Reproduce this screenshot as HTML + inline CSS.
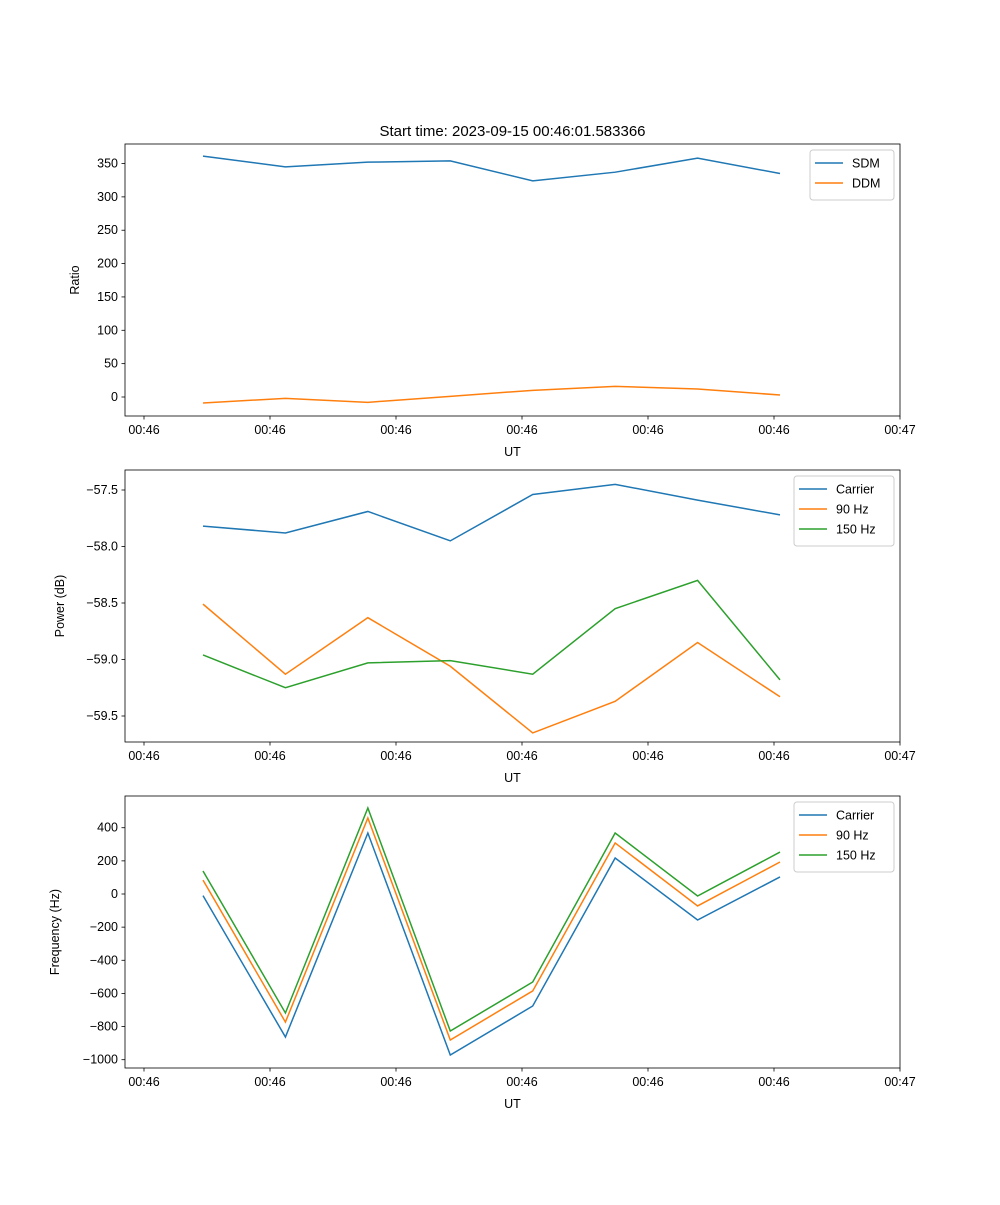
<!DOCTYPE html>
<html><head><meta charset="utf-8"><style>body{margin:0;background:#fff}svg{font-family:"Liberation Sans","DejaVu Sans",sans-serif}</style></head>
<body>
<svg id="chart" width="1000" height="1200" xmlns="http://www.w3.org/2000/svg"></svg>
<script>
const xIndex=[0,1,2,3,4,5,6,7];
const xTickLabels=["00:46","00:46","00:46","00:46","00:46","00:46","00:47"];
const sdm=[361,345,352,354,324,337,358,335];
const ddm=[-9,-2,-8,1,10,16,12,3];
const pCarrier=[-57.82,-57.88,-57.69,-57.95,-57.54,-57.45,-57.59,-57.72];
const p90=[-58.51,-59.13,-58.63,-59.06,-59.65,-59.37,-58.85,-59.33];
const p150=[-58.96,-59.25,-59.03,-59.01,-59.13,-58.55,-58.30,-59.18];
const fCarrier=[-10,-863,368,-972,-676,217,-157,103];
const f90=[84,-773,459,-881,-585,308,-72,193];
const f150=[139,-718,519,-827,-531,368,-12,253];
const ticks1=[0,50,100,150,200,250,300,350];
const ticks2=[-59.5,-59.0,-58.5,-58.0,-57.5];
const ticks3=[-1000,-800,-600,-400,-200,0,200,400];

const svg=document.getElementById('chart');
const NS="http://www.w3.org/2000/svg";
function el(t,a,p){const e=document.createElementNS(NS,t);for(const k in a)e.setAttribute(k,a[k]);(p||svg).appendChild(e);return e;}
function txt(s,a,p){const e=el('text',a,p);e.textContent=s;return e;}
const L=125,R=900;
const xs=i=>203+i*82.43;
const xTickPos=k=>144+k*126;

function panel(top,bot,yMap,ticks,fmt,series,ylabel,name,legendW){
  const g=el('g',{});
  
  
  series.forEach(s=>{
    const pl=el('polyline',{points:s.v.map((v,i)=>xs(xIndex[i])+','+yMap(v)).join(' '),fill:'none',stroke:s.c,'stroke-width':1.5},g);
    
    
  });
  el('rect',{x:L,y:top,width:R-L,height:bot-top,fill:'none',stroke:'#000','stroke-width':0.8},g);
  ticks.forEach(t=>{const y=yMap(t);el('line',{x1:L-3.5,x2:L,y1:y,y2:y,stroke:'#000','stroke-width':0.8},g);
    const tt=txt(fmt(t),{x:L-7,y:y+4,'text-anchor':'end','font-size':12.5},g);
    
    });
  xTickLabels.forEach((l,k)=>{const x=xTickPos(k);el('line',{x1:x,x2:x,y1:bot,y2:bot+3.5,stroke:'#000','stroke-width':0.8},g);
    const tt=txt(l,{x:x,y:bot+18,'text-anchor':'middle','font-size':12.5},g);
    
    });
  const xl=txt('UT',{x:(L+R)/2,y:bot+40,'text-anchor':'middle','font-size':12.5},g);
  
  
  const cy=(top+bot)/2;
  const yl=txt(ylabel,{x:0,y:0,'text-anchor':'middle','font-size':12.5,transform:`translate(${ylabel==='Ratio'?79:64},${cy}) rotate(-90)`},g);
  if(ylabel==='Frequency (Hz)')yl.setAttribute('transform',`translate(59,${cy}) rotate(-90)`);
  
  
  const lx=R-6-legendW, ly=top+6, lh=10+series.length*20;
  const lg=el('g',{},g);
  
  
  el('rect',{x:lx,y:ly,width:legendW,height:lh,rx:3,fill:'#fff',stroke:'#ccc','stroke-width':1},lg);
  series.forEach((s,i)=>{const y=ly+13+i*20;
    el('line',{x1:lx+5,x2:lx+33,y1:y,y2:y,stroke:s.c,'stroke-width':1.5},lg);
    const t=txt(s.n,{x:lx+42,y:y+4.5,'font-size':12.5},lg);
    
    });
}
const tt=txt('Start time: 2023-09-15 00:46:01.583366',{x:512.5,y:136,'text-anchor':'middle','font-size':15});


const B='#1f77b4',O='#ff7f0e',G='#2ca02c';
panel(144,416,v=>397-v*0.6671,ticks1,t=>String(t),[{n:'SDM',v:sdm,c:B},{n:'DDM',v:ddm,c:O}],'Ratio','ratio-panel',84);
panel(470,742,v=>490-(v+57.5)*113,ticks2,t=>(t<0?'\u2212':'')+Math.abs(t).toFixed(1),[{n:'Carrier',v:pCarrier,c:B},{n:'90 Hz',v:p90,c:O},{n:'150 Hz',v:p150,c:G}],'Power (dB)','power-panel',100);
panel(796,1068,v=>894-v*0.1657,ticks3,t=>(t<0?'\u2212':'')+Math.abs(t),[{n:'Carrier',v:fCarrier,c:B},{n:'90 Hz',v:f90,c:O},{n:'150 Hz',v:f150,c:G}],'Frequency (Hz)','frequency-panel',100);
</script>
</body></html>
